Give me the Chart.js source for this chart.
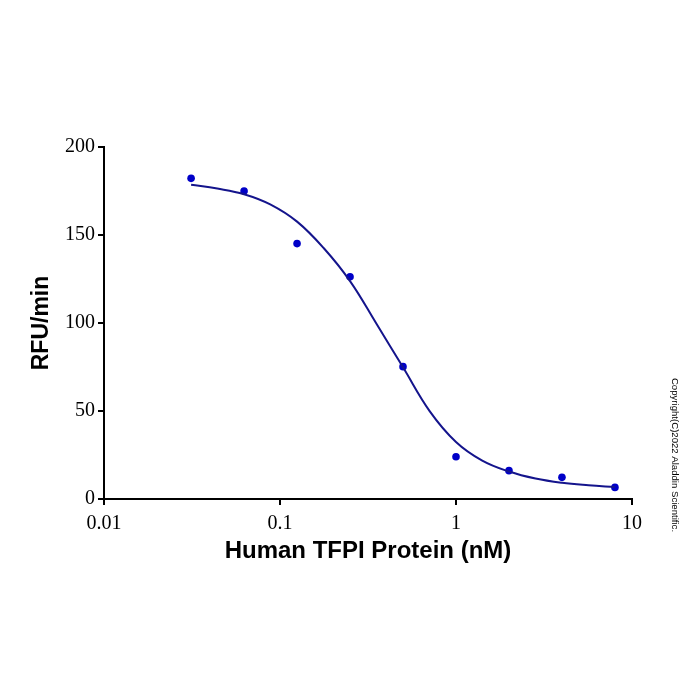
<!DOCTYPE html>
<html>
<head>
<meta charset="utf-8">
<script src="https://cdn.jsdelivr.net/npm/chart.js@4"></script>
<style>
html,body{margin:0;padding:0;background:#fff;}
canvas{display:block;}
</style>
</head>
<body>
<canvas id="c" width="700" height="700"></canvas>
<script>
// Measured points
const doses = [0.03125, 0.0625, 0.125, 0.25, 0.5, 1, 2, 4, 8];
const rfu = [182.2, 175.0, 145.1, 126.3, 75.2, 24.0, 16.1, 12.3, 6.6];
// Fitted curve
const curveX = [0.03125, 0.044, 0.0625, 0.088, 0.125, 0.177, 0.25, 0.354, 0.5, 0.71, 1, 1.41, 2, 2.83, 4, 5.66, 8];
const curveY = [178.6, 176.4, 173.2, 167.4, 157.6, 142.6, 123.8, 99.4, 74.8, 49.8, 32.4, 21.8, 15.6, 11.6, 9.2, 7.8, 6.8];
// Axes
const xTickValues = [0.01, 0.1, 1, 10];
const xTickLabels = ['0.01', '0.1', '1', '10'];
const yTickValues = [0, 50, 100, 150, 200];
const xTitle = 'Human TFPI Protein (nM)';
const yTitle = 'RFU/min';
const copyright = 'Copyright(C)2022 Aladdin Scientific.';

const pts = doses.map((d, i) => ({x: d, y: rfu[i]}));
const curve = curveX.map((d, i) => ({x: d, y: curveY[i]}));

const copyrightPlugin = {
  id: 'copyright',
  afterDraw(chart) {
    const ctx = chart.ctx;
    ctx.save();
    ctx.translate(675, 455);
    ctx.rotate(Math.PI / 2);
    ctx.font = '9.6px "Liberation Sans", Arial, sans-serif';
    ctx.fillStyle = '#000';
    ctx.textAlign = 'center';
    ctx.textBaseline = 'middle';
    ctx.fillText(copyright, 0, 0);
    ctx.restore();
  }
};

new Chart(document.getElementById('c'), {
  type: 'scatter',
  data: {
    datasets: [
      {
        data: curve,
        showLine: true,
        borderColor: '#14148c',
        borderWidth: 2,
        pointRadius: 0,
        tension: 0.4,
        fill: false
      },
      {
        data: pts,
        showLine: false,
        pointRadius: 3.8,
        pointBackgroundColor: '#0000c8',
        pointBorderColor: '#0000c8',
        pointBorderWidth: 0
      }
    ]
  },
  options: {
    responsive: false,
    animation: false,
    layout: {padding: {left: 0, top: 147, right: 68, bottom: 0}},
    plugins: {legend: {display: false}, tooltip: {enabled: false}},
    scales: {
      x: {
        type: 'logarithmic',
        min: 0.01,
        max: 10,
        afterBuildTicks: (s) => { s.ticks = xTickValues.map(v => ({value: v})); },
        afterFit: (s) => { s.height = 201; },
        ticks: {
          autoSkip: false,
          maxRotation: 0,
          padding: 7,
          color: '#000',
          font: {family: '"Liberation Serif", "Times New Roman", serif', size: 20},
          callback: (v) => { const i = xTickValues.indexOf(v); return i >= 0 ? xTickLabels[i] : ''; }
        },
        grid: {drawOnChartArea: false, drawTicks: true, tickLength: 6, color: '#000', lineWidth: 2},
        border: {display: true, color: '#000', width: 2},
        title: {
          display: true, text: xTitle, color: '#000',
          font: {family: '"Liberation Sans", Arial, sans-serif', size: 24, weight: 'bold'},
          padding: {top: 0, bottom: 134}
        }
      },
      y: {
        min: 0,
        max: 200,
        afterBuildTicks: (s) => { s.ticks = yTickValues.map(v => ({value: v})); },
        afterFit: (s) => { s.width = 104; },
        ticks: {
          padding: 3,
          color: '#000',
          font: {family: '"Liberation Serif", "Times New Roman", serif', size: 20}
        },
        grid: {drawOnChartArea: false, drawTicks: true, tickLength: 6, color: '#000', lineWidth: 2},
        border: {display: true, color: '#000', width: 2},
        title: {
          display: true, text: yTitle, color: '#000',
          font: {family: '"Liberation Sans", Arial, sans-serif', size: 23, weight: 'bold'},
          padding: {top: 28, bottom: 0}
        }
      }
    }
  },
  plugins: [copyrightPlugin]
});
</script>
</body>
</html>
